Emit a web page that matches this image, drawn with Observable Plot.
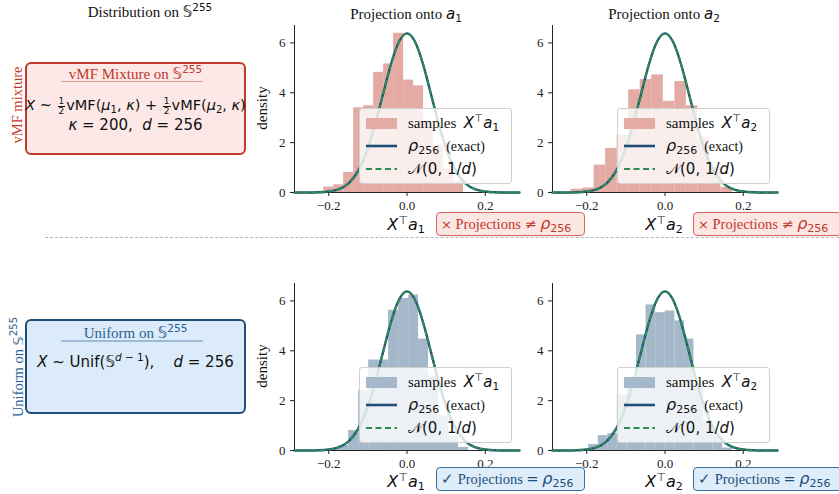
<!DOCTYPE html>
<html><head><meta charset="utf-8">
<script src="https://cdn.jsdelivr.net/npm/d3@7"></script>
<script src="https://cdn.jsdelivr.net/npm/@observablehq/plot@0.6"></script>
<style>
body{margin:0;background:#fff;}
#root{position:relative;width:839px;height:494px;overflow:hidden;font-family:"Liberation Serif","Times New Roman",serif;color:#111;}
.abs{position:absolute;}
.m{font-family:"DejaVu Sans",sans-serif;font-style:normal;}
.mi{font-family:"DejaVu Sans",sans-serif;font-style:italic;}
.sub{font-family:"DejaVu Sans",sans-serif;font-size:70%;vertical-align:-0.25em;line-height:0;font-style:normal;}
.sup{font-family:"DejaVu Sans",sans-serif;font-size:70%;vertical-align:0.55em;line-height:0;font-style:normal;}
.ctr{text-align:center;white-space:nowrap;}
.fr{display:inline-block;vertical-align:middle;text-align:center;font-size:9px;line-height:9px;margin:0 1px;font-family:"DejaVu Sans",sans-serif;}
.fr span{display:block;padding:0 1px;}
.fr span:first-child{border-bottom:1px solid currentColor;}
.leg{position:absolute;width:153px;height:76px;box-sizing:border-box;background:rgba(255,255,255,0.8);border:1px solid #cfcfcf;border-radius:3px;}
.leg .row{position:absolute;left:48px;height:20px;line-height:20px;white-space:nowrap;}
.ann{position:absolute;height:24px;box-sizing:border-box;border-radius:4px;line-height:22px;font-size:14.5px;white-space:nowrap;padding:0 4px;}
.rot{position:absolute;transform:translate(-50%,-50%) rotate(-90deg);white-space:nowrap;}
.xl{position:absolute;transform:translate(-50%,-50%);white-space:nowrap;line-height:18px;font-size:16px;}
</style>
</head><body><div id="root"></div>
<script>
// ---------- data ----------
const xTicks = [-0.2, 0.0, 0.2];
const yTicks = [0, 2, 4, 6];
const xDomain = [-0.2875, 0.2875];
const yDomain = [0, 6.7];

// density curves
const curveX = [-0.2875, -0.25, -0.225, -0.2, -0.175, -0.15, -0.125, -0.1, -0.075, -0.05, -0.025, 0, 0.025, 0.05, 0.075, 0.1, 0.125, 0.15, 0.175, 0.2, 0.225, 0.25, 0.2875];
const rhoY   = [0.000, 0.002, 0.010, 0.038, 0.127, 0.358, 0.864, 1.775, 3.107, 4.635, 5.892, 6.383, 5.892, 4.635, 3.107, 1.775, 0.864, 0.358, 0.127, 0.038, 0.010, 0.002, 0.000];
const normY  = [0.000, 0.002, 0.010, 0.038, 0.127, 0.358, 0.864, 1.775, 3.107, 4.635, 5.892, 6.383, 5.892, 4.635, 3.107, 1.775, 0.864, 0.358, 0.127, 0.038, 0.010, 0.002, 0.000];

// histograms (bin edges and densities)
const vmfA1Edges = [-0.2129, -0.1874, -0.1619, -0.1363, -0.1108, -0.0853, -0.0597, -0.0342, -0.0087, 0.0168, 0.0424, 0.0679, 0.0934, 0.1190, 0.1445];
const vmfA1Dens  = [0.22, 0.31, 0.80, 3.40, 3.48, 4.82, 5.16, 6.39, 4.51, 4.28, 2.80, 1.90, 0.95, 0.45];

const vmfA2Edges = [-0.2402, -0.2107, -0.1812, -0.1517, -0.1222, -0.0928, -0.0633, -0.0338, -0.0043, 0.0252, 0.0546, 0.0841, 0.1136, 0.1431, 0.1726];
const vmfA2Dens  = [0.13, 0.18, 1.10, 1.77, 2.30, 4.12, 4.53, 4.72, 3.66, 4.45, 3.48, 2.20, 1.00, 0.20];

const unifA1Edges = [-0.2002, -0.1746, -0.1491, -0.1236, -0.0980, -0.0725, -0.0470, -0.0214, 0.0041, 0.0296, 0.0551, 0.0807, 0.1062, 0.1317, 0.1573];
const unifA1Dens  = [0.05, 0.20, 0.80, 2.40, 3.63, 3.63, 5.63, 6.10, 6.24, 4.47, 3.00, 1.40, 0.60, 0.12];

const unifA2Edges = [-0.2196, -0.1952, -0.1705, -0.1461, -0.1217, -0.0973, -0.0727, -0.0483, -0.0239, 0.0008, 0.0252, 0.0496, 0.0740, 0.0986, 0.1230, 0.1474, 0.1720];
const unifA2Dens  = [0.05, 0.24, 0.60, 0.68, 2.24, 2.90, 4.64, 5.84, 5.53, 5.60, 5.20, 4.47, 2.50, 1.20, 0.55, 0.10];

// ---------- colours ----------
const RED = "#c0392b", BLUE = "#1f4e79", GREEN = "#2e8b57";
const RED_FILL = "#e4aba5", BLUE_FILL = "#a5b8ca";

const root = document.getElementById("root");
function add(html, cls, css) {
  const d = document.createElement("div");
  d.className = cls || "abs";
  d.innerHTML = html;
  Object.assign(d.style, css || {});
  root.appendChild(d);
  return d;
}
const fmtX = d => (d < 0 ? "\u2212" : "") + Math.abs(d).toFixed(1);
const fmtY = d => String(d);
const SERIF = "Liberation Serif";

function panel(edges, dens, fill, left, top) {
  const bins = dens.map((y, i) => ({x1: edges[i], x2: edges[i + 1], y}));
  const curve = curveX.map((x, i) => ({x, rho: rhoY[i], norm: normY[i]}));
  const svg = Plot.plot({
    width: 270, height: 200,
    marginLeft: 40, marginRight: 5, marginTop: 5, marginBottom: 28,
    style: {background: "transparent", overflow: "visible", color: "#222"},
    x: {domain: xDomain},
    y: {domain: yDomain},
    marks: [
      Plot.rectY(bins, {x1: "x1", x2: "x2", y: "y", fill}),
      Plot.ruleY([0], {stroke: "#222"}),
      Plot.ruleX([xDomain[0]], {stroke: "#222"}),
      Plot.line(curve, {x: "x", y: "rho", stroke: BLUE, strokeWidth: 2.4, curve: "natural"}),
      Plot.line(curve, {x: "x", y: "norm", stroke: GREEN, strokeWidth: 2, strokeDasharray: "5,3.5", curve: "natural"}),
      Plot.axisX({ticks: xTicks, tickFormat: fmtX, tickSize: 4, tickPadding: 4, label: null, fontFamily: SERIF, fontSize: 13}),
      Plot.axisY({ticks: yTicks, tickFormat: fmtY, tickSize: 4, tickPadding: 5, label: null, fontFamily: SERIF, fontSize: 13})
    ]
  });
  const w = document.createElement("div");
  w.className = "abs";
  w.style.left = left + "px"; w.style.top = top + "px";
  w.appendChild(svg);
  root.appendChild(w);
}

function legend(left, top, patch, k) {
  const sw = `<svg class="abs" style="left:5px;top:0" width="34" height="76">
    <rect x="1" y="9" width="31" height="11" fill="${patch}"/>
    <line x1="1" x2="32" y1="37" y2="37" stroke="${BLUE}" stroke-width="2.6"/>
    <line x1="1" x2="32" y1="60" y2="60" stroke="${GREEN}" stroke-width="2.2" stroke-dasharray="6,3.5"/>
  </svg>
  <div class="row" style="top:4px;font-size:15px">samples&nbsp; <span class="mi" style="font-size:15px">X</span><span class="sup">⊤</span><span class="mi" style="font-size:15px">a</span><span class="sub">${k}</span></div>
  <div class="row" style="top:27px;font-size:14px"><span class="mi" style="font-size:16px">ρ</span><span class="sub" style="font-size:11px">256</span>&nbsp; (exact)</div>
  <div class="row" style="top:50px"><span class="m" style="font-size:15px">𝒩(0, 1/<span class="mi">d</span>)</span></div>`;
  add(sw, "leg", {left: left + "px", top: top + "px"});
}

function xlabel(cx, cy, k) {
  add(`<span class="mi">X</span><span class="sup">⊤</span><span class="mi">a</span><span class="sub">${k}</span>`, "xl",
      {left: cx + "px", top: cy + "px"});
}

// ---------- headers ----------
add(`Distribution on <span class="m">𝕊</span><span class="sup">255</span>`, "abs ctr", {left: "50px", width: "200px", top: "2px", fontSize: "15px", lineHeight: "20px"});
add(`Projection onto <span class="mi">a</span><span class="sub">1</span>`, "abs ctr", {left: "306px", width: "200px", top: "4px", fontSize: "15px", lineHeight: "20px"});
add(`Projection onto <span class="mi">a</span><span class="sub">2</span>`, "abs ctr", {left: "564px", width: "200px", top: "4px", fontSize: "15px", lineHeight: "20px"});

// ---------- separator ----------
add("", "abs", {left: "45px", top: "237px", width: "794px", height: "0", borderTop: "1px dashed #b5b5b5"});

// ---------- panels ----------
panel(vmfA1Edges, vmfA1Dens, RED_FILL, 254, 20);
panel(vmfA2Edges, vmfA2Dens, RED_FILL, 512, 20);
panel(unifA1Edges, unifA1Dens, BLUE_FILL, 254, 278);
panel(unifA2Edges, unifA2Dens, BLUE_FILL, 512, 278);

legend(359, 108, RED_FILL, 1);
legend(617, 108, RED_FILL, 2);
legend(359, 367, BLUE_FILL, 1);
legend(617, 367, BLUE_FILL, 2);

xlabel(406, 225, 1); xlabel(664, 225, 2);
xlabel(406, 482, 1); xlabel(664, 482, 2);

add("density", "rot", {left: "262px", top: "108px", fontSize: "15px"});
add("density", "rot", {left: "262px", top: "366px", fontSize: "15px"});

// ---------- row labels ----------
add("vMF mixture", "rot", {left: "17px", top: "105px", fontSize: "14.5px", color: RED});
add(`Uniform on <span class="m">𝕊</span><span class="sup">255</span>`, "rot", {left: "18px", top: "367px", fontSize: "14.5px", color: "#2b6190"});

// ---------- left boxes ----------
add(`
  <div class="abs ctr" style="left:0;width:217px;top:0;line-height:20px;font-size:15px;color:${RED}">vMF Mixture on <span class="m">𝕊</span><span class="sup">255</span></div>
  <div class="abs" style="left:34px;width:142px;top:17px;border-top:1px solid #e59a92"></div>
  <div class="abs ctr m" style="left:-4px;width:225px;top:29px;line-height:24px;font-size:14.5px;color:#111"><span class="mi">X</span> ~ <span class="fr"><span>1</span><span>2</span></span>vMF(<span class="mi">μ</span><span class="sub">1</span>, <span class="mi">κ</span>) + <span class="fr"><span>1</span><span>2</span></span>vMF(<span class="mi">μ</span><span class="sub">2</span>, <span class="mi">κ</span>)</div>
  <div class="abs ctr m" style="left:0;width:217px;top:50px;line-height:22px;font-size:15px;color:#111"><span class="mi">κ</span> = 200,&nbsp; <span class="mi">d</span> = 256</div>
`, "abs", {left: "25px", top: "62px", width: "221px", height: "93px", boxSizing: "border-box", border: "2px solid " + RED, background: "#fce8e6", borderRadius: "6px"});

add(`
  <div class="abs ctr" style="left:0;width:217px;top:2px;line-height:20px;font-size:15px;color:#2b6190">Uniform on <span class="m">𝕊</span><span class="sup">255</span></div>
  <div class="abs" style="left:34px;width:142px;top:19px;border-top:2px solid #9dbbd6"></div>
  <div class="abs ctr m" style="left:0;width:217px;top:29px;line-height:24px;font-size:15px;color:#111"><span class="mi">X</span> ~ Unif(𝕊<span class="sup"><span class="mi">d</span> − 1</span>),&nbsp;&nbsp;&nbsp; <span class="mi">d</span> = 256</div>
`, "abs", {left: "25px", top: "319px", width: "221px", height: "95px", boxSizing: "border-box", border: "2px solid " + BLUE, background: "#dcebfa", borderRadius: "6px"});

// ---------- annotations ----------
function ann(left, top, ok) {
  const html = ok
    ? `✓ Projections <span class="m">=</span> <span class="mi" style="font-size:16px">ρ</span><span class="sub" style="font-size:11px">256</span>`
    : `<span class="m" style="font-size:13px">×</span> Projections <span class="m">≠</span> <span class="mi" style="font-size:16px">ρ</span><span class="sub" style="font-size:11px">256</span>`;
  add(html, "ann", {left: left + "px", top: top + "px", width: "149px",
    border: "1px solid " + (ok ? "#3a6f9b" : "#d9665a"), background: ok ? "#ddedfa" : "#fce6e4", color: ok ? BLUE : RED});
}
ann(436, 212, false); ann(693, 212, false);
ann(436, 467, true);  ann(693, 467, true);
</script>
</body></html>
